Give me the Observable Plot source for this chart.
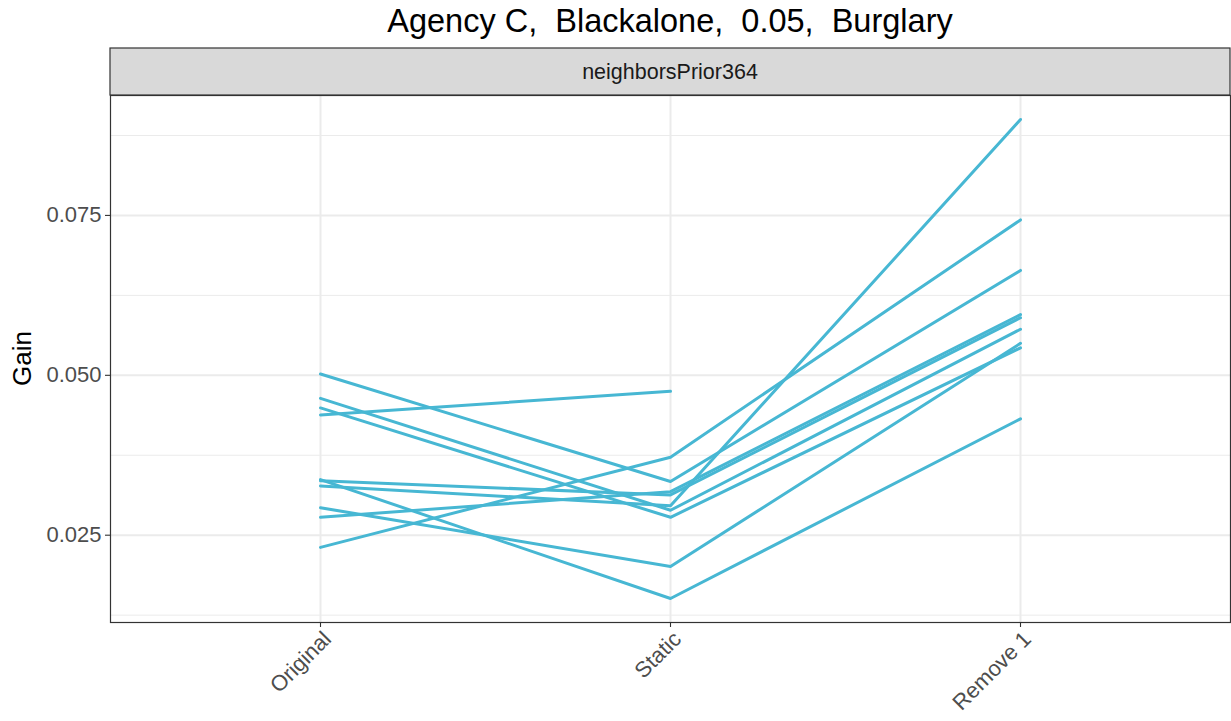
<!DOCTYPE html>
<html>
<head>
<meta charset="utf-8">
<script src="https://cdn.jsdelivr.net/npm/d3@7"></script>
<script src="https://cdn.jsdelivr.net/npm/@observablehq/plot@0.6"></script>
<style>
  html, body { margin: 0; padding: 0; background: #ffffff; }
  #chart { width: 1231px; height: 721px; }
</style>
</head>
<body>
<div id="chart"></div>
<script>
// Gain per run across the three stages, one line per run
const stages = ["Original", "Static", "Remove 1"];
const originalGain = [0.0502, 0.0464, 0.0449, 0.0438, 0.0337, 0.0335, 0.0327, 0.0293, 0.0278, 0.0231];
const staticGain   = [0.0334, 0.0289, 0.0278, 0.0475, 0.0151, 0.0313, 0.0296, 0.0201, 0.0318, 0.0372];
const remove1Gain  = [0.0664, 0.0572, 0.0543, null,   0.0432, 0.0590, 0.0900, 0.0550, 0.0595, 0.0743];
const yTicks = [0.025, 0.050, 0.075];
const yMinorTicks = [0.0125, 0.0375, 0.0625, 0.0875];
const titleText = "Agency C,  Blackalone,  0.05,  Burglary";
const stripText = "neighborsPrior364";
const yLabel = "Gain";

const rows = [];
originalGain.forEach((_, i) => {
  [originalGain[i], staticGain[i], remove1Gain[i]].forEach((g, j) => {
    if (g != null) rows.push({run: i, stage: stages[j], gain: g});
  });
});

const W = 1231, H = 721;
const mLeft = 110, mRight = 1, mTop = 95, mBottom = 99;
const lineColor = "#47b7d3";
const font = "'Liberation Sans', Arial, Helvetica, sans-serif";

const chart = Plot.plot({
  width: W,
  height: H,
  marginLeft: mLeft,
  marginRight: mRight,
  marginTop: mTop,
  marginBottom: mBottom,
  style: {fontFamily: font, background: "#ffffff", overflow: "visible"},
  x: {type: "point", domain: stages, padding: 0.6, label: null},
  y: {domain: [0.01135, 0.09375], label: null},
  marks: [
    // minor and major grid
    Plot.ruleY(yMinorTicks, {stroke: "#ebebeb", strokeWidth: 1}),
    Plot.ruleY(yTicks, {stroke: "#ebebeb", strokeWidth: 2}),
    Plot.ruleX(stages, {stroke: "#ebebeb", strokeWidth: 2}),
    // runs
    Plot.line(rows, {x: "stage", y: "gain", z: "run", stroke: lineColor, strokeWidth: 3, strokeLinejoin: "round"}),
    // axes
    Plot.axisY(yTicks, {
      tickSize: 5, tickPadding: 4, stroke: "#333333", strokeWidth: 1.1,
      tickFormat: d3.format(".3f"), fontSize: 22, fill: "#4d4d4d", label: null
    }),
    // x tick marks
    Plot.axisX(stages, {
      tickSize: 5, stroke: "#333333", strokeWidth: 1.1, text: null, label: null
    }),
    // x tick labels, rotated
    Plot.axisX(stages, {
      tickSize: 0, tickPadding: 11, tickRotate: -45, fontSize: 22,
      fill: "#4d4d4d", label: null, dx: 7, dy: 2
    }),
    Plot.frame({stroke: "#333333", strokeWidth: 1.2})
  ]
});

document.getElementById("chart").appendChild(chart);

// title, facet strip and y-axis title
const svg = d3.select(chart);
const panelCx = (mLeft + (W - mRight)) / 2;

svg.append("text")
  .attr("x", panelCx).attr("y", 32)
  .attr("text-anchor", "middle")
  .attr("font-family", font).attr("font-size", 32.5)
  .attr("fill", "#000000")
  .style("white-space", "pre")
  .attr("xml:space", "preserve")
  .text(titleText);

svg.append("rect")
  .attr("x", mLeft).attr("y", 48)
  .attr("width", W - mRight - mLeft).attr("height", mTop - 48)
  .attr("fill", "#d9d9d9").attr("stroke", "#333333").attr("stroke-width", 1.2);

svg.append("text")
  .attr("x", panelCx).attr("y", 79)
  .attr("text-anchor", "middle")
  .attr("font-family", font).attr("font-size", 21.5)
  .attr("fill", "#1a1a1a")
  .text(stripText);

svg.append("text")
  .attr("transform", `translate(31, ${(mTop + H - mBottom) / 2}) rotate(-90)`)
  .attr("text-anchor", "middle")
  .attr("font-family", font).attr("font-size", 26)
  .attr("fill", "#000000")
  .text(yLabel);
</script>
</body>
</html>
